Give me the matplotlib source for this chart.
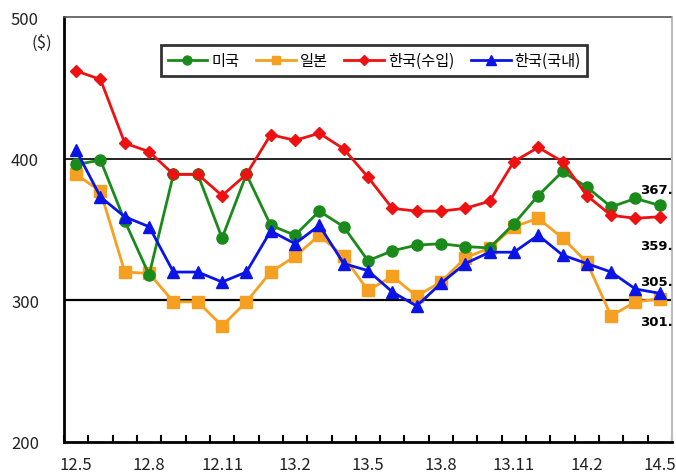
import matplotlib.pyplot as plt
import numpy as np

plt.rcParams['font.family'] = ['Noto Sans CJK KR', 'DejaVu Sans']

months = ["12.5", "12.6", "12.7", "12.8", "12.9", "12.10", "12.11", "12.12",
          "13.1", "13.2", "13.3", "13.4", "13.5", "13.6", "13.7", "13.8",
          "13.9", "13.10", "13.11", "13.12", "14.1", "14.2", "14.3", "14.4", "14.5"]
usa = [396, 399, 356, 318, 389, 389, 344, 389, 353, 346, 363, 352, 328,
       335, 339, 340, 338, 337, 354, 374, 391, 380, 366, 372, 367]
japan = [389, 377, 320, 319, 299, 299, 282, 299, 320, 331, 346, 331, 307,
         317, 303, 313, 330, 337, 352, 358, 344, 327, 289, 299, 301]
korea_import = [462, 456, 411, 405, 389, 389, 374, 389, 417, 413, 418, 407, 387,
                365, 363, 363, 365, 370, 398, 408, 398, 374, 360, 358, 359]
korea_domestic = [406, 373, 359, 352, 320, 320, 313, 320, 349, 340, 353, 326, 321,
                  306, 296, 312, 326, 334, 334, 346, 332, 326, 320, 308, 305]
end_labels = ["367.", "359.", "305.", "301."]

x = np.arange(len(months))

fig = plt.figure(figsize=(6.76, 4.77), dpi=100)
ax = fig.add_axes([0.0947, 0.0713, 0.8993, 0.8907])

ax.axhline(300, color='black', lw=1.6, zorder=1)
ax.axhline(400, color='black', lw=1.2, zorder=1)

ax.plot(x, usa, '-o', color='#1a8a1a', ms=8, lw=2, label='미국', zorder=3)
ax.plot(x, japan, '-s', color='#f5a020', ms=8, lw=2, label='일본', zorder=2)
ax.plot(x, korea_import, '-D', color='#ee1111', ms=6, lw=2, label='한국(수입)', zorder=4)
ax.plot(x, korea_domestic, '-^', color='#0a14e6', ms=9, lw=2, label='한국(국내)', zorder=5)

ax.set_xlim(-0.5, len(months) - 0.5)
ax.set_ylim(200, 500)
ax.set_yticks([200, 300, 400, 500])
ax.set_xticks(x[::3])
ax.set_xticklabels(months[::3])
ax.set_xticks(np.arange(-0.5, len(months)), minor=True)
ax.tick_params(axis='x', which='major', length=0, labelsize=12, pad=10, colors='#222222')
ax.tick_params(axis='x', which='minor', direction='in', length=5, width=1.5)
ax.tick_params(axis='y', length=0, labelsize=12, pad=18, colors='#222222')
ax.text(-1.0, 482, '($)', fontsize=12, ha='right', va='center', color='#222222')

for side in ['left', 'bottom']:
    ax.spines[side].set_linewidth(2)
    ax.spines[side].set_color('black')
ax.spines['right'].set_color('#bbbbbb')
ax.spines['right'].set_linewidth(1.5)
ax.spines['top'].set_color('#555555')
ax.spines['top'].set_linestyle((0, (4, 1)))
ax.spines['top'].set_linewidth(1.2)

label_y = [378, 339, 313, 285]
for txt, yv in zip(end_labels, label_y):
    ax.text(23.2, yv, txt, fontsize=9.5, fontweight='bold', ha='left', va='center',
            family='DejaVu Sans', clip_on=False, zorder=6)

leg = ax.legend(loc='upper center', bbox_to_anchor=(0.51, 0.952), ncol=4,
                frameon=True, fancybox=False, edgecolor='black', fontsize=11,
                handlelength=2.6, handletextpad=0.25, columnspacing=1.1,
                borderpad=0.45, markerscale=0.8)
leg.get_frame().set_linewidth(2)

fig.savefig('out.png', dpi=100)
